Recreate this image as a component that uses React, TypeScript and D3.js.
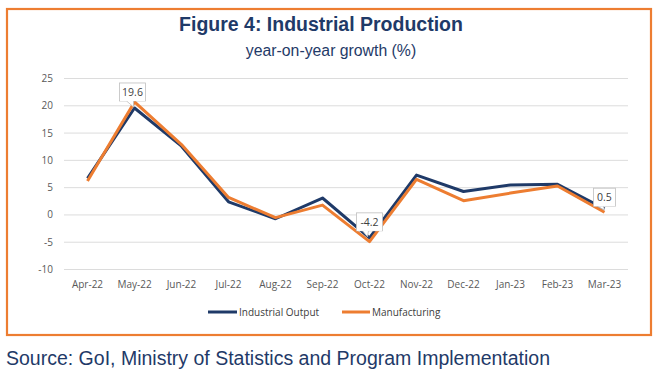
import React from "react";
import * as d3 from "d3";

const categories = ["Apr-22","May-22","Jun-22","Jul-22","Aug-22","Sep-22","Oct-22","Nov-22","Dec-22","Jan-23","Feb-23","Mar-23"];
const industrialOutput = [6.7, 19.6, 12.6, 2.4, -0.7, 3.1, -4.2, 7.3, 4.3, 5.5, 5.6, 1.1];
const manufacturing = [6.2, 20.7, 12.9, 3.2, -0.5, 1.8, -4.9, 6.5, 2.6, 4.0, 5.3, 0.5];
const yTicks = [-10, -5, 0, 5, 10, 15, 20, 25];
const labels = [
  { i: 1, value: 19.6, series: "io" },
  { i: 6, value: -4.2, series: "io" },
  { i: 11, value: 0.5, series: "mf" },
];

const NAVY = "#1f3a68";
const ORANGE = "#ed7d31";

export default function App() {
  const W = 660, H = 382;
  const x = d3.scaleBand().domain(categories).range([64, 628]);
  const y = d3.scaleLinear().domain([-10, 25]).range([269.5, 78.5]);
  const cx = (c: string) => (x(c) as number) + x.bandwidth() / 2;
  const line = d3.line<number>().x((_, i) => cx(categories[i])).y((d) => y(d));
  const tickFont = "'Open Sans', 'Liberation Sans', sans-serif";

  return (
    <svg width={W} height={H} style={{ position: "absolute", left: 0, top: 0, background: "#fff" }}>
      <rect x={7} y={9} width={644} height={326} fill="#fff" stroke={ORANGE} strokeWidth={2.2} />
      <text x={321} y={31} textAnchor="middle" fontFamily="'Liberation Sans', Arial, sans-serif" fontWeight="bold" fontSize={19.5} fill={NAVY}>
        Figure 4: Industrial Production
      </text>
      <text x={331} y={56} textAnchor="middle" fontFamily="'Liberation Sans', Arial, sans-serif" fontSize={15.8} fill={NAVY}>
        year-on-year growth (%)
      </text>
      {yTicks.map((t) => (
        <g key={t}>
          <line x1={64} x2={628} y1={y(t)} y2={y(t)} stroke="#dcdcdc" strokeWidth={1} />
          <text x={53} y={y(t) + 3.5} textAnchor="end" fontFamily={tickFont} fontSize={10} fill="#595959">{t}</text>
        </g>
      ))}
      {categories.map((c) => (
        <text key={c} x={cx(c)} y={288} textAnchor="middle" fontFamily={tickFont} fontSize={10} fill="#595959">{c}</text>
      ))}
      <path d={line(industrialOutput) || ""} fill="none" stroke={NAVY} strokeWidth={3} strokeLinejoin="round" />
      <path d={line(manufacturing) || ""} fill="none" stroke={ORANGE} strokeWidth={3} strokeLinejoin="round" />
      {labels.map((l) => {
        const px = cx(categories[l.i]);
        const py = y(l.value);
        const bw = l.value === 0.5 ? 22 : 26;
        const bh = 18;
        let bx: number, by: number, path: string;
        if (l.i === 1) {
          bx = px - 15; by = py - 25;
          path = `M${bx + 7},${by + bh} L${px - 1},${py - 1} L${bx + 14},${by + bh}`;
        } else if (l.i === 6) {
          bx = px - 13; by = py - 25;
          path = `M${bx + 6},${by + bh} L${px - 2},${py - 1} L${bx + 12},${by + bh}`;
        } else {
          bx = px - 11; by = py - 24;
          path = `M${bx + 4},${by + bh} L${px},${py - 2} L${bx + 10},${by + bh}`;
        }
        return (
          <g key={l.i}>
            <rect x={bx} y={by} width={bw} height={bh} fill="#fff" stroke="#bfbfbf" strokeWidth={0.8} />
            <path d={path} fill="#fff" stroke="#bfbfbf" strokeWidth={0.8} />
            <rect x={bx + 0.5} y={by + bh - 2} width={bw - 1} height={2} fill="#fff" />
            <text x={bx + bw / 2} y={by + 13} textAnchor="middle" fontFamily={tickFont} fontSize={10.5} fill="#404040">{l.value}</text>
          </g>
        );
      })}
      <line x1={208} x2={237} y1={312} y2={312} stroke={NAVY} strokeWidth={3} />
      <text x={239} y={315.5} fontFamily={tickFont} fontSize={10} fill="#404040">Industrial Output</text>
      <line x1={342} x2={370} y1={312} y2={312} stroke={ORANGE} strokeWidth={3} />
      <text x={372} y={315.5} fontFamily={tickFont} fontSize={10} fill="#404040">Manufacturing</text>
      <text x={6} y={365} fontFamily="'Liberation Sans', Arial, sans-serif" fontSize={19.5} fill={NAVY}>
        Source: GoI, Ministry of Statistics and Program Implementation
      </text>
    </svg>
  );
}
